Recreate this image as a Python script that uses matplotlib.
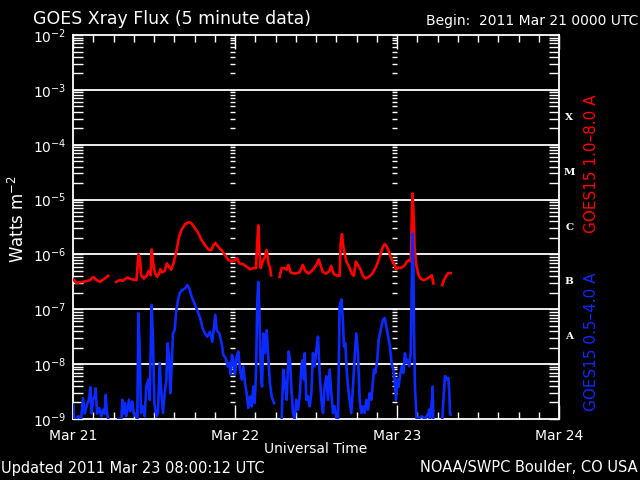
import numpy as np
import matplotlib
matplotlib.use("Agg")
import matplotlib.pyplot as plt
from matplotlib.ticker import LogLocator, NullFormatter
import matplotlib.transforms as mtransforms

nan = np.nan

# hours since 2011 Mar 21 00:00 UTC, log10 of flux (W m^-2)
red_hours = [
    0.0, 0.5, 1.5, 2.5, 3.0, 3.5, 4.0, 4.7, 5.2, 5.3,
    6.4, 6.9, 7.4, 8.0, 8.6, 9.4, 9.7, 9.9, 10.1, 10.5,
    10.9, 11.2, 11.5, 11.65, 11.85, 12.1, 12.45, 12.75, 12.95, 13.2,
    13.6, 13.9, 14.2, 14.55, 14.9, 15.2, 15.45, 15.7, 16.05, 16.6,
    17.2, 17.6, 18.1, 18.6, 19.05, 19.55, 20.05, 20.5, 20.8, 21.1,
    21.5, 22.0, 22.5, 23.0, 23.5, 24.0, 24.35, 24.6, 25.2, 25.7,
    26.2, 26.7, 27.1, 27.3, 27.45, 27.6, 27.8, 28.1, 28.45, 28.7,
    28.95, 29.2, 29.35, 29.4,
    30.6, 30.9, 31.25, 31.65, 31.9, 32.25, 32.85, 33.55, 34.05, 34.4,
    34.9, 35.55, 36.05, 36.4, 36.7, 37.0, 37.5, 38.0, 38.25, 38.6,
    38.95, 39.5, 39.65, 39.85, 40.05, 40.25, 40.5, 40.75, 41.0, 41.3,
    41.6, 41.9, 42.2, 42.6, 42.95, 43.3, 43.8, 44.3, 44.8, 45.2,
    45.6, 45.9, 46.2, 46.5, 46.9, 47.2, 47.55, 47.85, 48.2, 48.7,
    49.2, 49.45, 49.85, 50.05, 50.2, 50.3, 50.45, 50.6, 50.85, 51.2,
    51.5, 51.9, 52.4, 52.8, 53.15, 53.4, 53.45,
    54.7, 54.95, 55.35, 55.6, 55.95,
]
red_log = [
    -6.45, -6.52, -6.50, -6.47, -6.41, -6.47, -6.50, -6.44, -6.39, nan,
    -6.50, -6.47, -6.48, -6.42, -6.45, -6.47, -6.00, -6.07, -6.38, -6.44,
    -6.39, -6.30, -6.38, -5.91, -6.13, -6.32, -6.41, -6.35, -6.27, -6.33,
    -6.30, -6.16, -6.22, -6.28, -6.16, -6.01, -5.86, -5.68, -5.56, -5.45,
    -5.41, -5.44, -5.53, -5.62, -5.74, -5.83, -5.91, -5.92, -5.83, -5.79,
    -5.86, -5.92, -6.01, -6.10, -6.13, -6.10, -6.07, -6.16, -6.18, -6.22,
    -6.27, -6.25, -6.25, -5.77, -5.47, -5.92, -6.25, -6.13, -6.04, -5.92,
    -6.16, -6.25, -6.38, nan,
    -6.41, -6.25, -6.25, -6.28, -6.19, -6.33, -6.35, -6.33, -6.19, -6.30,
    -6.35, -6.28, -6.19, -6.09, -6.21, -6.32, -6.35, -6.30, -6.21, -6.35,
    -6.38, -6.39, -5.80, -5.63, -5.86, -5.98, -6.13, -6.19, -6.25, -6.35,
    -6.39, -6.13, -6.19, -6.28, -6.39, -6.44, -6.41, -6.36, -6.25, -6.13,
    -5.98, -5.86, -5.81, -5.86, -5.98, -6.10, -6.16, -6.27, -6.24, -6.24,
    -6.19, -6.13, -6.10, -6.13, -5.25, -4.89, -5.25, -5.86, -6.19, -6.38,
    -6.44, -6.47, -6.45, -6.41, -6.38, -6.53, nan,
    -6.56, -6.47, -6.38, -6.34, -6.34,
]

blue_hours = [
    0.0, 0.15, 0.5, 0.8, 1.2, 1.48, 1.73, 2.07, 2.37, 2.57,
    2.77, 2.96, 3.21, 3.36, 3.56, 3.85, 4.2, 4.44, 4.69, 4.84,
    5.04, 5.23, 5.3, 6.7, 7.16, 7.31, 7.5, 7.7, 7.9, 8.15,
    8.3, 8.49, 8.79, 8.99, 9.28, 9.53, 9.68, 9.88, 10.07, 10.37,
    10.62, 10.86, 11.16, 11.36, 11.65, 11.85, 12.05, 12.35, 12.59, 12.84,
    13.09, 13.33, 13.58, 13.83, 14.02, 14.22, 14.42, 14.62, 14.81, 15.06,
    15.31, 15.56, 15.8, 16.05, 16.6, 16.94, 17.23, 17.58, 18.07, 18.57,
    18.91, 19.21, 19.55, 19.9, 20.29, 20.64, 20.89, 21.08, 21.28, 21.68,
    22.02, 22.27, 22.62, 22.91, 23.16, 23.36, 23.55, 23.75, 24.0, 24.25,
    24.49, 24.74, 24.99, 25.23, 25.48, 25.73, 25.97, 26.22, 26.47, 26.71,
    26.91, 27.11, 27.31, 27.45, 27.6, 27.8, 28.0, 28.2, 28.44, 28.69,
    28.94, 29.18, 29.43, 29.78, 29.9, 30.91, 31.16, 31.45, 31.65, 31.95,
    32.15, 32.34, 32.59, 32.84, 33.08, 33.33, 33.58, 33.83, 34.07, 34.22,
    34.32, 34.57, 34.81, 35.06, 35.31, 35.55, 35.8, 36.05, 36.3, 36.54,
    36.79, 37.04, 37.28, 37.53, 37.78, 38.02, 38.27, 38.52, 38.76, 39.01,
    39.26, 39.5, 39.75, 39.95, 40.15, 40.34, 40.54, 40.74, 40.99, 41.23,
    41.48, 41.73, 41.97, 42.22, 42.47, 42.71, 42.96, 43.21, 43.46, 43.7,
    43.95, 44.2, 44.59, 44.79, 45.08, 45.28, 45.58, 45.92, 46.17, 46.42,
    46.66, 46.96, 47.2, 47.45, 47.65, 47.85, 48.05, 48.24, 48.44, 48.69,
    48.94, 49.18, 49.33, 49.53, 49.82, 50.02, 50.17, 50.32, 50.42, 50.52,
    50.66, 50.91, 51.16, 51.65, 52.15, 52.64, 52.79, 52.89, 53.18, 53.28,
    53.38, 53.42, 54.7, 55.1, 55.35, 55.6, 55.75, 55.85, 55.95,
]
blue_log = [
    -8.74, -9.0, -9.0, -8.95, -9.0, -8.62, -8.9, -8.74, -8.65, -8.42,
    -8.9, -8.65, -8.59, -8.44, -8.9, -8.80, -8.95, -8.83, -8.9, -8.56,
    -8.9, -9.0, nan, -9.0, -9.0, -8.65, -8.9, -8.71, -8.95, -8.77,
    -8.65, -8.86, -8.68, -8.9, -8.95, -9.0, -7.07, -7.74, -8.89, -8.77,
    -8.95, -8.41, -8.28, -8.65, -6.92, -7.56, -8.71, -8.95, -8.89, -7.98,
    -8.53, -8.89, -8.53, -8.28, -7.62, -7.86, -8.53, -8.04, -7.44, -7.38,
    -7.01, -6.83, -6.71, -6.66, -6.62, -6.56, -6.62, -6.77, -6.92, -7.07,
    -7.19, -7.35, -7.44, -7.50, -7.41, -7.59, -7.32, -7.10, -7.38, -7.44,
    -7.62, -7.83, -7.89, -8.04, -7.98, -8.19, -7.83, -7.92, -8.19, -7.86,
    -7.77, -8.10, -8.28, -8.04, -8.35, -8.53, -8.80, -8.59, -8.77, -8.41,
    -8.71, -8.16, -6.83, -6.50, -7.01, -8.04, -8.41, -7.44, -7.80, -7.38,
    -7.92, -8.35, -8.59, -8.71, nan, -9.0, -8.10, -8.41, -8.65, -7.77,
    -7.92, -8.41, -8.89, -9.0, -8.65, -8.83, -8.59, -8.04, -7.92, -8.28,
    -7.80, -8.65, -8.59, -8.77, -8.53, -7.80, -8.04, -7.74, -7.50, -8.16,
    -8.65, -8.89, -8.41, -8.22, -8.65, -8.10, -8.53, -8.89, -8.77, -8.98,
    -9.0, -6.95, -6.82, -7.13, -7.68, -7.62, -8.10, -8.41, -8.65, -8.89,
    -8.41, -7.86, -7.44, -7.80, -8.65, -8.89, -8.77, -8.89, -8.65, -8.83,
    -8.53, -8.65, -8.10, -8.16, -7.92, -7.56, -7.38, -7.19, -7.16, -7.31,
    -7.47, -7.68, -7.98, -8.10, -8.28, -8.65, -8.28, -8.41, -8.22, -8.04,
    -8.16, -7.80, -7.98, -7.92, -8.04, -7.80, -6.65, -5.62, -6.16, -7.38,
    -8.41, -9.0, -9.0, -8.95, -9.0, -8.9, -8.83, -9.0, -8.65, -8.41,
    -9.0, nan, -9.0, -8.22, -8.28, -8.25, -8.52, -8.89, -8.92,
]

day_hours = [0, 24, 48, 72]
day_labels = ['Mar 21', 'Mar 22', 'Mar 23', 'Mar 24']
flare_classes = ['A', 'B', 'C', 'M', 'X']
class_decades = [-8, -7, -6, -5, -4]

red = '#ff0000'
blue = '#0a2aff'

fig = plt.figure(figsize=(6.4, 4.8), dpi=100, facecolor='black')
ax = fig.add_axes([73 / 640, 61 / 480, 486 / 640, 384 / 480])
ax.set_facecolor('black')

# decade grid lines
for e in range(-8, -2):
    ax.axhline(10.0 ** e, color='white', linewidth=1.3, zorder=1)

# y ticks repeated at the inner day boundaries
tick_vals = [m * 10.0 ** e for e in range(-9, -2) for m in range(1, 10)] + [1e-2]
for d in day_hours[1:-1]:
    ax.hlines(tick_vals, d - 0.75, d, color='white', linewidth=1, zorder=1)

ax.plot(red_hours, 10.0 ** np.array(red_log), color=red, linewidth=1.9, zorder=3)
ax.plot(blue_hours, 10.0 ** np.array(blue_log), color=blue, linewidth=1.9, zorder=4)

ax.set_yscale('log')
ax.set_xlim(0, 72)
ax.set_ylim(1e-9, 1e-2)

ax.set_xticks(day_hours, labels=day_labels)
ax.set_xticks(np.arange(0, 73, 3), minor=True)
ax.set_yticks([10.0 ** e for e in range(-9, -1)])
ax.yaxis.set_minor_locator(LogLocator(base=10, subs=np.arange(2, 10)))
ax.yaxis.set_minor_formatter(NullFormatter())

ax.tick_params(axis='both', which='both', direction='in', colors='white',
               top=True, right=True, width=1)
ax.tick_params(axis='x', which='major', length=10, labelsize=10, pad=7)
ax.tick_params(axis='x', which='minor', length=5)
ax.tick_params(axis='y', which='major', length=7, labelsize=10, pad=5)
ax.tick_params(axis='y', which='minor', length=7)
for s in ax.spines.values():
    s.set_color('white')
    s.set_linewidth(1.3)

# flare class letters on the right
trans = mtransforms.blended_transform_factory(ax.transAxes, ax.transData)
for c, e in zip(flare_classes, class_decades):
    ax.text(1.021, 10.0 ** (e + 0.5), c, transform=trans, color='white',
            fontsize=7.5, fontweight='bold', family='DejaVu Serif',
            ha='center', va='center')

fig.text(33 / 640, 1 - 19 / 480, 'GOES Xray Flux (5 minute data)', color='white',
         fontsize=12.5, ha='left', va='center')
fig.text(638 / 640, 1 - 21 / 480, 'Begin:  2011 Mar 21 0000 UTC', color='white',
         fontsize=10, ha='right', va='center')
fig.text(18 / 640, 1 - 219 / 480, r'Watts m$^{-2}$', color='white', fontsize=12,
         rotation=90, ha='center', va='center')
fig.text(316 / 640, 1 - 449 / 480, 'Universal Time', color='white', fontsize=10,
         ha='center', va='center')
fig.text(1 / 640, 1 - 468 / 480, 'Updated 2011 Mar 23 08:00:12 UTC', color='white',
         fontsize=10.5, ha='left', va='center')
fig.text(638 / 640, 1 - 468 / 480, 'NOAA/SWPC Boulder, CO USA', color='white',
         fontsize=10.5, ha='right', va='center')
fig.text(591 / 640, 1 - 164 / 480, 'GOES15 1.0–8.0 A', color=red, fontsize=11,
         rotation=90, ha='center', va='center')
fig.text(591 / 640, 1 - 342 / 480, 'GOES15 0.5–4.0 A', color=blue, fontsize=11,
         rotation=90, ha='center', va='center')

fig.savefig('out.png', dpi=100, facecolor='black')
